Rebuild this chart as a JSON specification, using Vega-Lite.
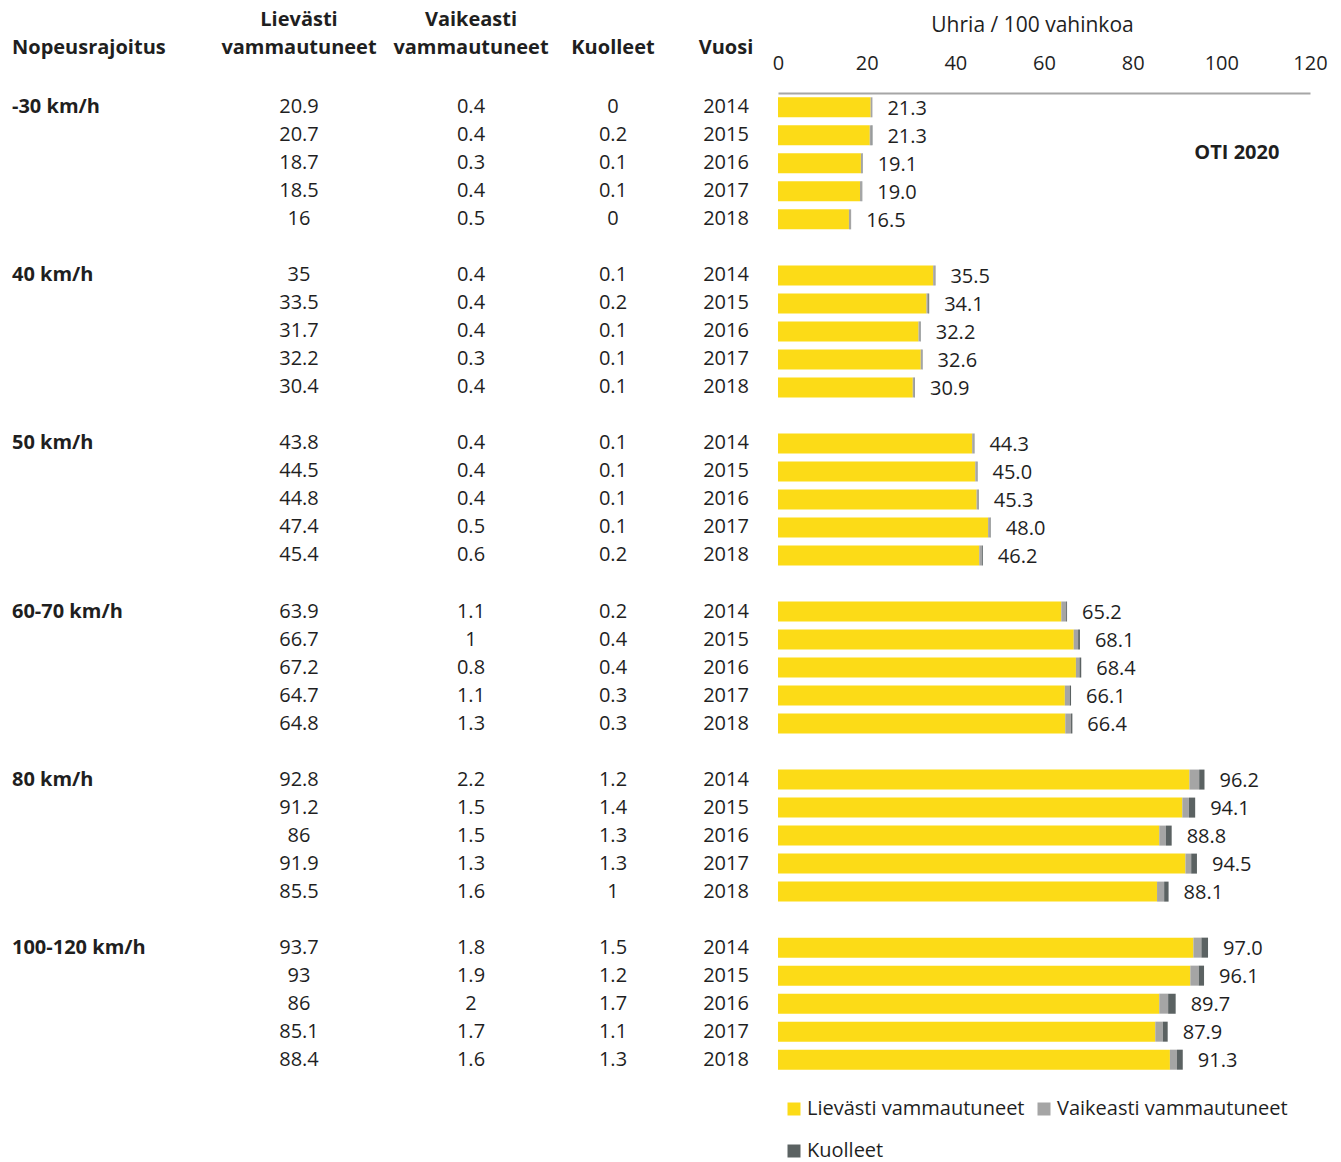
{
  "$schema": "https://vega.github.io/schema/vega-lite/v6.json",
  "padding": {"left": 12, "top": 10, "right": 5, "bottom": 0},
  "background": "white",
  "bounds": "flush",
  "spacing": 0,
  "config": {
    "view": {"stroke": null},
    "font": "Open Sans",
    "text": {"font": "Open Sans", "fontSize": 20, "color": "#1f1f1f"},
    "title": {"font": "Open Sans", "fontSize": 20, "fontWeight": "bold", "color": "#1f1f1f", "lineHeight": 28, "baseline": "alphabetic", "offset": 35, "frame": "group"}
  },
  "data": {
    "values": [
      {"Nopeusrajoitus": "-30 km/h", "Vuosi": 2014, "Lievästi vammautuneet": 20.9, "Vaikeasti vammautuneet": 0.4, "Kuolleet": 0, "Yhteensä": 21.3},
      {"Nopeusrajoitus": "-30 km/h", "Vuosi": 2015, "Lievästi vammautuneet": 20.7, "Vaikeasti vammautuneet": 0.4, "Kuolleet": 0.2, "Yhteensä": 21.3},
      {"Nopeusrajoitus": "-30 km/h", "Vuosi": 2016, "Lievästi vammautuneet": 18.7, "Vaikeasti vammautuneet": 0.3, "Kuolleet": 0.1, "Yhteensä": 19.1},
      {"Nopeusrajoitus": "-30 km/h", "Vuosi": 2017, "Lievästi vammautuneet": 18.5, "Vaikeasti vammautuneet": 0.4, "Kuolleet": 0.1, "Yhteensä": 19.0},
      {"Nopeusrajoitus": "-30 km/h", "Vuosi": 2018, "Lievästi vammautuneet": 16, "Vaikeasti vammautuneet": 0.5, "Kuolleet": 0, "Yhteensä": 16.5},
      {"Nopeusrajoitus": "40 km/h", "Vuosi": 2014, "Lievästi vammautuneet": 35, "Vaikeasti vammautuneet": 0.4, "Kuolleet": 0.1, "Yhteensä": 35.5},
      {"Nopeusrajoitus": "40 km/h", "Vuosi": 2015, "Lievästi vammautuneet": 33.5, "Vaikeasti vammautuneet": 0.4, "Kuolleet": 0.2, "Yhteensä": 34.1},
      {"Nopeusrajoitus": "40 km/h", "Vuosi": 2016, "Lievästi vammautuneet": 31.7, "Vaikeasti vammautuneet": 0.4, "Kuolleet": 0.1, "Yhteensä": 32.2},
      {"Nopeusrajoitus": "40 km/h", "Vuosi": 2017, "Lievästi vammautuneet": 32.2, "Vaikeasti vammautuneet": 0.3, "Kuolleet": 0.1, "Yhteensä": 32.6},
      {"Nopeusrajoitus": "40 km/h", "Vuosi": 2018, "Lievästi vammautuneet": 30.4, "Vaikeasti vammautuneet": 0.4, "Kuolleet": 0.1, "Yhteensä": 30.9},
      {"Nopeusrajoitus": "50 km/h", "Vuosi": 2014, "Lievästi vammautuneet": 43.8, "Vaikeasti vammautuneet": 0.4, "Kuolleet": 0.1, "Yhteensä": 44.3},
      {"Nopeusrajoitus": "50 km/h", "Vuosi": 2015, "Lievästi vammautuneet": 44.5, "Vaikeasti vammautuneet": 0.4, "Kuolleet": 0.1, "Yhteensä": 45.0},
      {"Nopeusrajoitus": "50 km/h", "Vuosi": 2016, "Lievästi vammautuneet": 44.8, "Vaikeasti vammautuneet": 0.4, "Kuolleet": 0.1, "Yhteensä": 45.3},
      {"Nopeusrajoitus": "50 km/h", "Vuosi": 2017, "Lievästi vammautuneet": 47.4, "Vaikeasti vammautuneet": 0.5, "Kuolleet": 0.1, "Yhteensä": 48.0},
      {"Nopeusrajoitus": "50 km/h", "Vuosi": 2018, "Lievästi vammautuneet": 45.4, "Vaikeasti vammautuneet": 0.6, "Kuolleet": 0.2, "Yhteensä": 46.2},
      {"Nopeusrajoitus": "60-70 km/h", "Vuosi": 2014, "Lievästi vammautuneet": 63.9, "Vaikeasti vammautuneet": 1.1, "Kuolleet": 0.2, "Yhteensä": 65.2},
      {"Nopeusrajoitus": "60-70 km/h", "Vuosi": 2015, "Lievästi vammautuneet": 66.7, "Vaikeasti vammautuneet": 1, "Kuolleet": 0.4, "Yhteensä": 68.1},
      {"Nopeusrajoitus": "60-70 km/h", "Vuosi": 2016, "Lievästi vammautuneet": 67.2, "Vaikeasti vammautuneet": 0.8, "Kuolleet": 0.4, "Yhteensä": 68.4},
      {"Nopeusrajoitus": "60-70 km/h", "Vuosi": 2017, "Lievästi vammautuneet": 64.7, "Vaikeasti vammautuneet": 1.1, "Kuolleet": 0.3, "Yhteensä": 66.1},
      {"Nopeusrajoitus": "60-70 km/h", "Vuosi": 2018, "Lievästi vammautuneet": 64.8, "Vaikeasti vammautuneet": 1.3, "Kuolleet": 0.3, "Yhteensä": 66.4},
      {"Nopeusrajoitus": "80 km/h", "Vuosi": 2014, "Lievästi vammautuneet": 92.8, "Vaikeasti vammautuneet": 2.2, "Kuolleet": 1.2, "Yhteensä": 96.2},
      {"Nopeusrajoitus": "80 km/h", "Vuosi": 2015, "Lievästi vammautuneet": 91.2, "Vaikeasti vammautuneet": 1.5, "Kuolleet": 1.4, "Yhteensä": 94.1},
      {"Nopeusrajoitus": "80 km/h", "Vuosi": 2016, "Lievästi vammautuneet": 86, "Vaikeasti vammautuneet": 1.5, "Kuolleet": 1.3, "Yhteensä": 88.8},
      {"Nopeusrajoitus": "80 km/h", "Vuosi": 2017, "Lievästi vammautuneet": 91.9, "Vaikeasti vammautuneet": 1.3, "Kuolleet": 1.3, "Yhteensä": 94.5},
      {"Nopeusrajoitus": "80 km/h", "Vuosi": 2018, "Lievästi vammautuneet": 85.5, "Vaikeasti vammautuneet": 1.6, "Kuolleet": 1, "Yhteensä": 88.1},
      {"Nopeusrajoitus": "100-120 km/h", "Vuosi": 2014, "Lievästi vammautuneet": 93.7, "Vaikeasti vammautuneet": 1.8, "Kuolleet": 1.5, "Yhteensä": 97.0},
      {"Nopeusrajoitus": "100-120 km/h", "Vuosi": 2015, "Lievästi vammautuneet": 93, "Vaikeasti vammautuneet": 1.9, "Kuolleet": 1.2, "Yhteensä": 96.1},
      {"Nopeusrajoitus": "100-120 km/h", "Vuosi": 2016, "Lievästi vammautuneet": 86, "Vaikeasti vammautuneet": 2, "Kuolleet": 1.7, "Yhteensä": 89.7},
      {"Nopeusrajoitus": "100-120 km/h", "Vuosi": 2017, "Lievästi vammautuneet": 85.1, "Vaikeasti vammautuneet": 1.7, "Kuolleet": 1.1, "Yhteensä": 87.9},
      {"Nopeusrajoitus": "100-120 km/h", "Vuosi": 2018, "Lievästi vammautuneet": 88.4, "Vaikeasti vammautuneet": 1.6, "Kuolleet": 1.3, "Yhteensä": 91.3}
    ]
  },
  "resolve": {"scale": {"x": "independent"}},
  "hconcat": [
    {
      "width": 196, "height": 981,
      "title": {"text": "Nopeusrajoitus", "anchor": "start"},
      "transform": [
        {"calculate": "datum.Nopeusrajoitus + ' ' + datum.Vuosi", "as": "rivi"},
        {"filter": "datum.Vuosi == 2014"}
      ],
      "mark": {"type": "text", "align": "left", "baseline": "middle", "fontWeight": "bold"},
      "encoding": {
        "x": {"datum": 0, "type": "quantitative", "scale": {"domain": [0, 1]}, "axis": null},
        "y": {"field": "rivi", "type": "nominal", "axis": null,
              "scale": {"type": "band", "paddingInner": 0.2857, "paddingOuter": 0.154,
                        "domain": ["-30 km/h 2014","-30 km/h 2015","-30 km/h 2016","-30 km/h 2017","-30 km/h 2018","väli 1","40 km/h 2014","40 km/h 2015","40 km/h 2016","40 km/h 2017","40 km/h 2018","väli 2","50 km/h 2014","50 km/h 2015","50 km/h 2016","50 km/h 2017","50 km/h 2018","väli 3","60-70 km/h 2014","60-70 km/h 2015","60-70 km/h 2016","60-70 km/h 2017","60-70 km/h 2018","väli 4","80 km/h 2014","80 km/h 2015","80 km/h 2016","80 km/h 2017","80 km/h 2018","väli 5","100-120 km/h 2014","100-120 km/h 2015","100-120 km/h 2016","100-120 km/h 2017","100-120 km/h 2018"]}},
        "text": {"field": "Nopeusrajoitus", "type": "nominal"}
      }
    },
    {
      "width": 182, "height": 981,
      "title": {"text": ["Lievästi", "vammautuneet"], "anchor": "middle"},
      "transform": [{"calculate": "datum.Nopeusrajoitus + ' ' + datum.Vuosi", "as": "rivi"}],
      "mark": {"type": "text", "baseline": "middle"},
      "encoding": {
        "y": {"field": "rivi", "type": "nominal", "axis": null,
              "scale": {"type": "band", "paddingInner": 0.2857, "paddingOuter": 0.154,
                        "domain": ["-30 km/h 2014","-30 km/h 2015","-30 km/h 2016","-30 km/h 2017","-30 km/h 2018","väli 1","40 km/h 2014","40 km/h 2015","40 km/h 2016","40 km/h 2017","40 km/h 2018","väli 2","50 km/h 2014","50 km/h 2015","50 km/h 2016","50 km/h 2017","50 km/h 2018","väli 3","60-70 km/h 2014","60-70 km/h 2015","60-70 km/h 2016","60-70 km/h 2017","60-70 km/h 2018","väli 4","80 km/h 2014","80 km/h 2015","80 km/h 2016","80 km/h 2017","80 km/h 2018","väli 5","100-120 km/h 2014","100-120 km/h 2015","100-120 km/h 2016","100-120 km/h 2017","100-120 km/h 2018"]}},
        "text": {"field": "Lievästi vammautuneet", "type": "nominal"}
      }
    },
    {
      "width": 162, "height": 981,
      "title": {"text": ["Vaikeasti", "vammautuneet"], "anchor": "middle"},
      "transform": [{"calculate": "datum.Nopeusrajoitus + ' ' + datum.Vuosi", "as": "rivi"}],
      "mark": {"type": "text", "baseline": "middle"},
      "encoding": {
        "y": {"field": "rivi", "type": "nominal", "axis": null,
              "scale": {"type": "band", "paddingInner": 0.2857, "paddingOuter": 0.154,
                        "domain": ["-30 km/h 2014","-30 km/h 2015","-30 km/h 2016","-30 km/h 2017","-30 km/h 2018","väli 1","40 km/h 2014","40 km/h 2015","40 km/h 2016","40 km/h 2017","40 km/h 2018","väli 2","50 km/h 2014","50 km/h 2015","50 km/h 2016","50 km/h 2017","50 km/h 2018","väli 3","60-70 km/h 2014","60-70 km/h 2015","60-70 km/h 2016","60-70 km/h 2017","60-70 km/h 2018","väli 4","80 km/h 2014","80 km/h 2015","80 km/h 2016","80 km/h 2017","80 km/h 2018","väli 5","100-120 km/h 2014","100-120 km/h 2015","100-120 km/h 2016","100-120 km/h 2017","100-120 km/h 2018"]}},
        "text": {"field": "Vaikeasti vammautuneet", "type": "nominal"}
      }
    },
    {
      "width": 122, "height": 981,
      "title": {"text": "Kuolleet", "anchor": "middle"},
      "transform": [{"calculate": "datum.Nopeusrajoitus + ' ' + datum.Vuosi", "as": "rivi"}],
      "mark": {"type": "text", "baseline": "middle"},
      "encoding": {
        "y": {"field": "rivi", "type": "nominal", "axis": null,
              "scale": {"type": "band", "paddingInner": 0.2857, "paddingOuter": 0.154,
                        "domain": ["-30 km/h 2014","-30 km/h 2015","-30 km/h 2016","-30 km/h 2017","-30 km/h 2018","väli 1","40 km/h 2014","40 km/h 2015","40 km/h 2016","40 km/h 2017","40 km/h 2018","väli 2","50 km/h 2014","50 km/h 2015","50 km/h 2016","50 km/h 2017","50 km/h 2018","väli 3","60-70 km/h 2014","60-70 km/h 2015","60-70 km/h 2016","60-70 km/h 2017","60-70 km/h 2018","väli 4","80 km/h 2014","80 km/h 2015","80 km/h 2016","80 km/h 2017","80 km/h 2018","väli 5","100-120 km/h 2014","100-120 km/h 2015","100-120 km/h 2016","100-120 km/h 2017","100-120 km/h 2018"]}},
        "text": {"field": "Kuolleet", "type": "nominal"}
      }
    },
    {
      "width": 104, "height": 981,
      "title": {"text": "Vuosi", "anchor": "middle"},
      "transform": [{"calculate": "datum.Nopeusrajoitus + ' ' + datum.Vuosi", "as": "rivi"}],
      "mark": {"type": "text", "baseline": "middle"},
      "encoding": {
        "y": {"field": "rivi", "type": "nominal", "axis": null,
              "scale": {"type": "band", "paddingInner": 0.2857, "paddingOuter": 0.154,
                        "domain": ["-30 km/h 2014","-30 km/h 2015","-30 km/h 2016","-30 km/h 2017","-30 km/h 2018","väli 1","40 km/h 2014","40 km/h 2015","40 km/h 2016","40 km/h 2017","40 km/h 2018","väli 2","50 km/h 2014","50 km/h 2015","50 km/h 2016","50 km/h 2017","50 km/h 2018","väli 3","60-70 km/h 2014","60-70 km/h 2015","60-70 km/h 2016","60-70 km/h 2017","60-70 km/h 2018","väli 4","80 km/h 2014","80 km/h 2015","80 km/h 2016","80 km/h 2017","80 km/h 2018","väli 5","100-120 km/h 2014","100-120 km/h 2015","100-120 km/h 2016","100-120 km/h 2017","100-120 km/h 2018"]}},
        "text": {"field": "Vuosi", "type": "nominal"}
      }
    },
    {
      "width": 532, "height": 981,
      "transform": [{"calculate": "datum.Nopeusrajoitus + ' ' + datum.Vuosi", "as": "rivi"}],
      "encoding": {
        "y": {"field": "rivi", "type": "nominal", "axis": null,
              "scale": {"type": "band", "paddingInner": 0.2857, "paddingOuter": 0.154,
                        "domain": ["-30 km/h 2014","-30 km/h 2015","-30 km/h 2016","-30 km/h 2017","-30 km/h 2018","väli 1","40 km/h 2014","40 km/h 2015","40 km/h 2016","40 km/h 2017","40 km/h 2018","väli 2","50 km/h 2014","50 km/h 2015","50 km/h 2016","50 km/h 2017","50 km/h 2018","väli 3","60-70 km/h 2014","60-70 km/h 2015","60-70 km/h 2016","60-70 km/h 2017","60-70 km/h 2018","väli 4","80 km/h 2014","80 km/h 2015","80 km/h 2016","80 km/h 2017","80 km/h 2018","väli 5","100-120 km/h 2014","100-120 km/h 2015","100-120 km/h 2016","100-120 km/h 2017","100-120 km/h 2018"]}}
      },
      "layer": [
        {
          "transform": [
            {"fold": ["Lievästi vammautuneet", "Vaikeasti vammautuneet", "Kuolleet"], "as": ["Luokka", "Arvo"]},
            {"calculate": "indexof(['Lievästi vammautuneet', 'Vaikeasti vammautuneet', 'Kuolleet'], datum.Luokka)", "as": "järjestys"}
          ],
          "mark": {"type": "bar"},
          "encoding": {
            "x": {"field": "Arvo", "type": "quantitative", "stack": "zero",
                  "scale": {"domain": [0, 120], "nice": false},
                  "axis": {"orient": "top", "values": [0, 20, 40, 60, 80, 100, 120], "grid": false, "ticks": false, "tickSize": 0,
                           "domainColor": "#A6A6A6", "domainWidth": 2, "labelFont": "Open Sans", "labelFontSize": 20, "labelColor": "#1f1f1f",
                           "labelPadding": 24, "labelBaseline": "alphabetic", "labelFlush": false, "labelOverlap": false,
                           "title": "Uhria / 100 vahinkoa", "titleFont": "Open Sans", "titleFontSize": 21, "titleFontWeight": "normal", "titleColor": "#1f1f1f",
                           "titleX": 254, "titleY": -62, "titleAlign": "center", "titleBaseline": "alphabetic"}},
            "order": {"field": "järjestys", "type": "quantitative", "sort": "ascending"},
            "color": {"field": "Luokka", "type": "nominal",
                      "sort": ["Lievästi vammautuneet", "Vaikeasti vammautuneet", "Kuolleet"],
                      "scale": {"domain": ["Lievästi vammautuneet", "Vaikeasti vammautuneet", "Kuolleet"], "range": ["#FCDB17", "#A5A5A5", "#5B6262"]},
                      "legend": {"orient": "none", "legendX": 772, "legendY": 1006, "direction": "horizontal", "columns": 2, "title": null,
                                 "symbolType": "square", "symbolSize": 169, "symbolStrokeWidth": 0, "labelFont": "Open Sans", "labelFontSize": 20,
                                 "labelColor": "#1f1f1f", "labelOffset": 3, "columnPadding": 9, "rowPadding": 22, "labelLimit": 400}}
          }
        },
        {
          "mark": {"type": "text", "align": "left", "baseline": "middle", "dx": 15, "dy": 1.5},
          "encoding": {
            "x": {"field": "Yhteensä", "type": "quantitative"},
            "text": {"field": "Yhteensä", "type": "quantitative", "format": ".1f"}
          }
        },
        {
          "data": {"values": [{"merkintä": "OTI 2020"}]},
          "mark": {"type": "text", "align": "center", "baseline": "middle", "fontWeight": "bold", "dy": -10},
          "encoding": {
            "x": {"datum": 103.5, "type": "quantitative"},
            "y": {"datum": "-30 km/h 2016", "type": "nominal"},
            "text": {"field": "merkintä", "type": "nominal"}
          }
        }
      ]
    }
  ]
}
